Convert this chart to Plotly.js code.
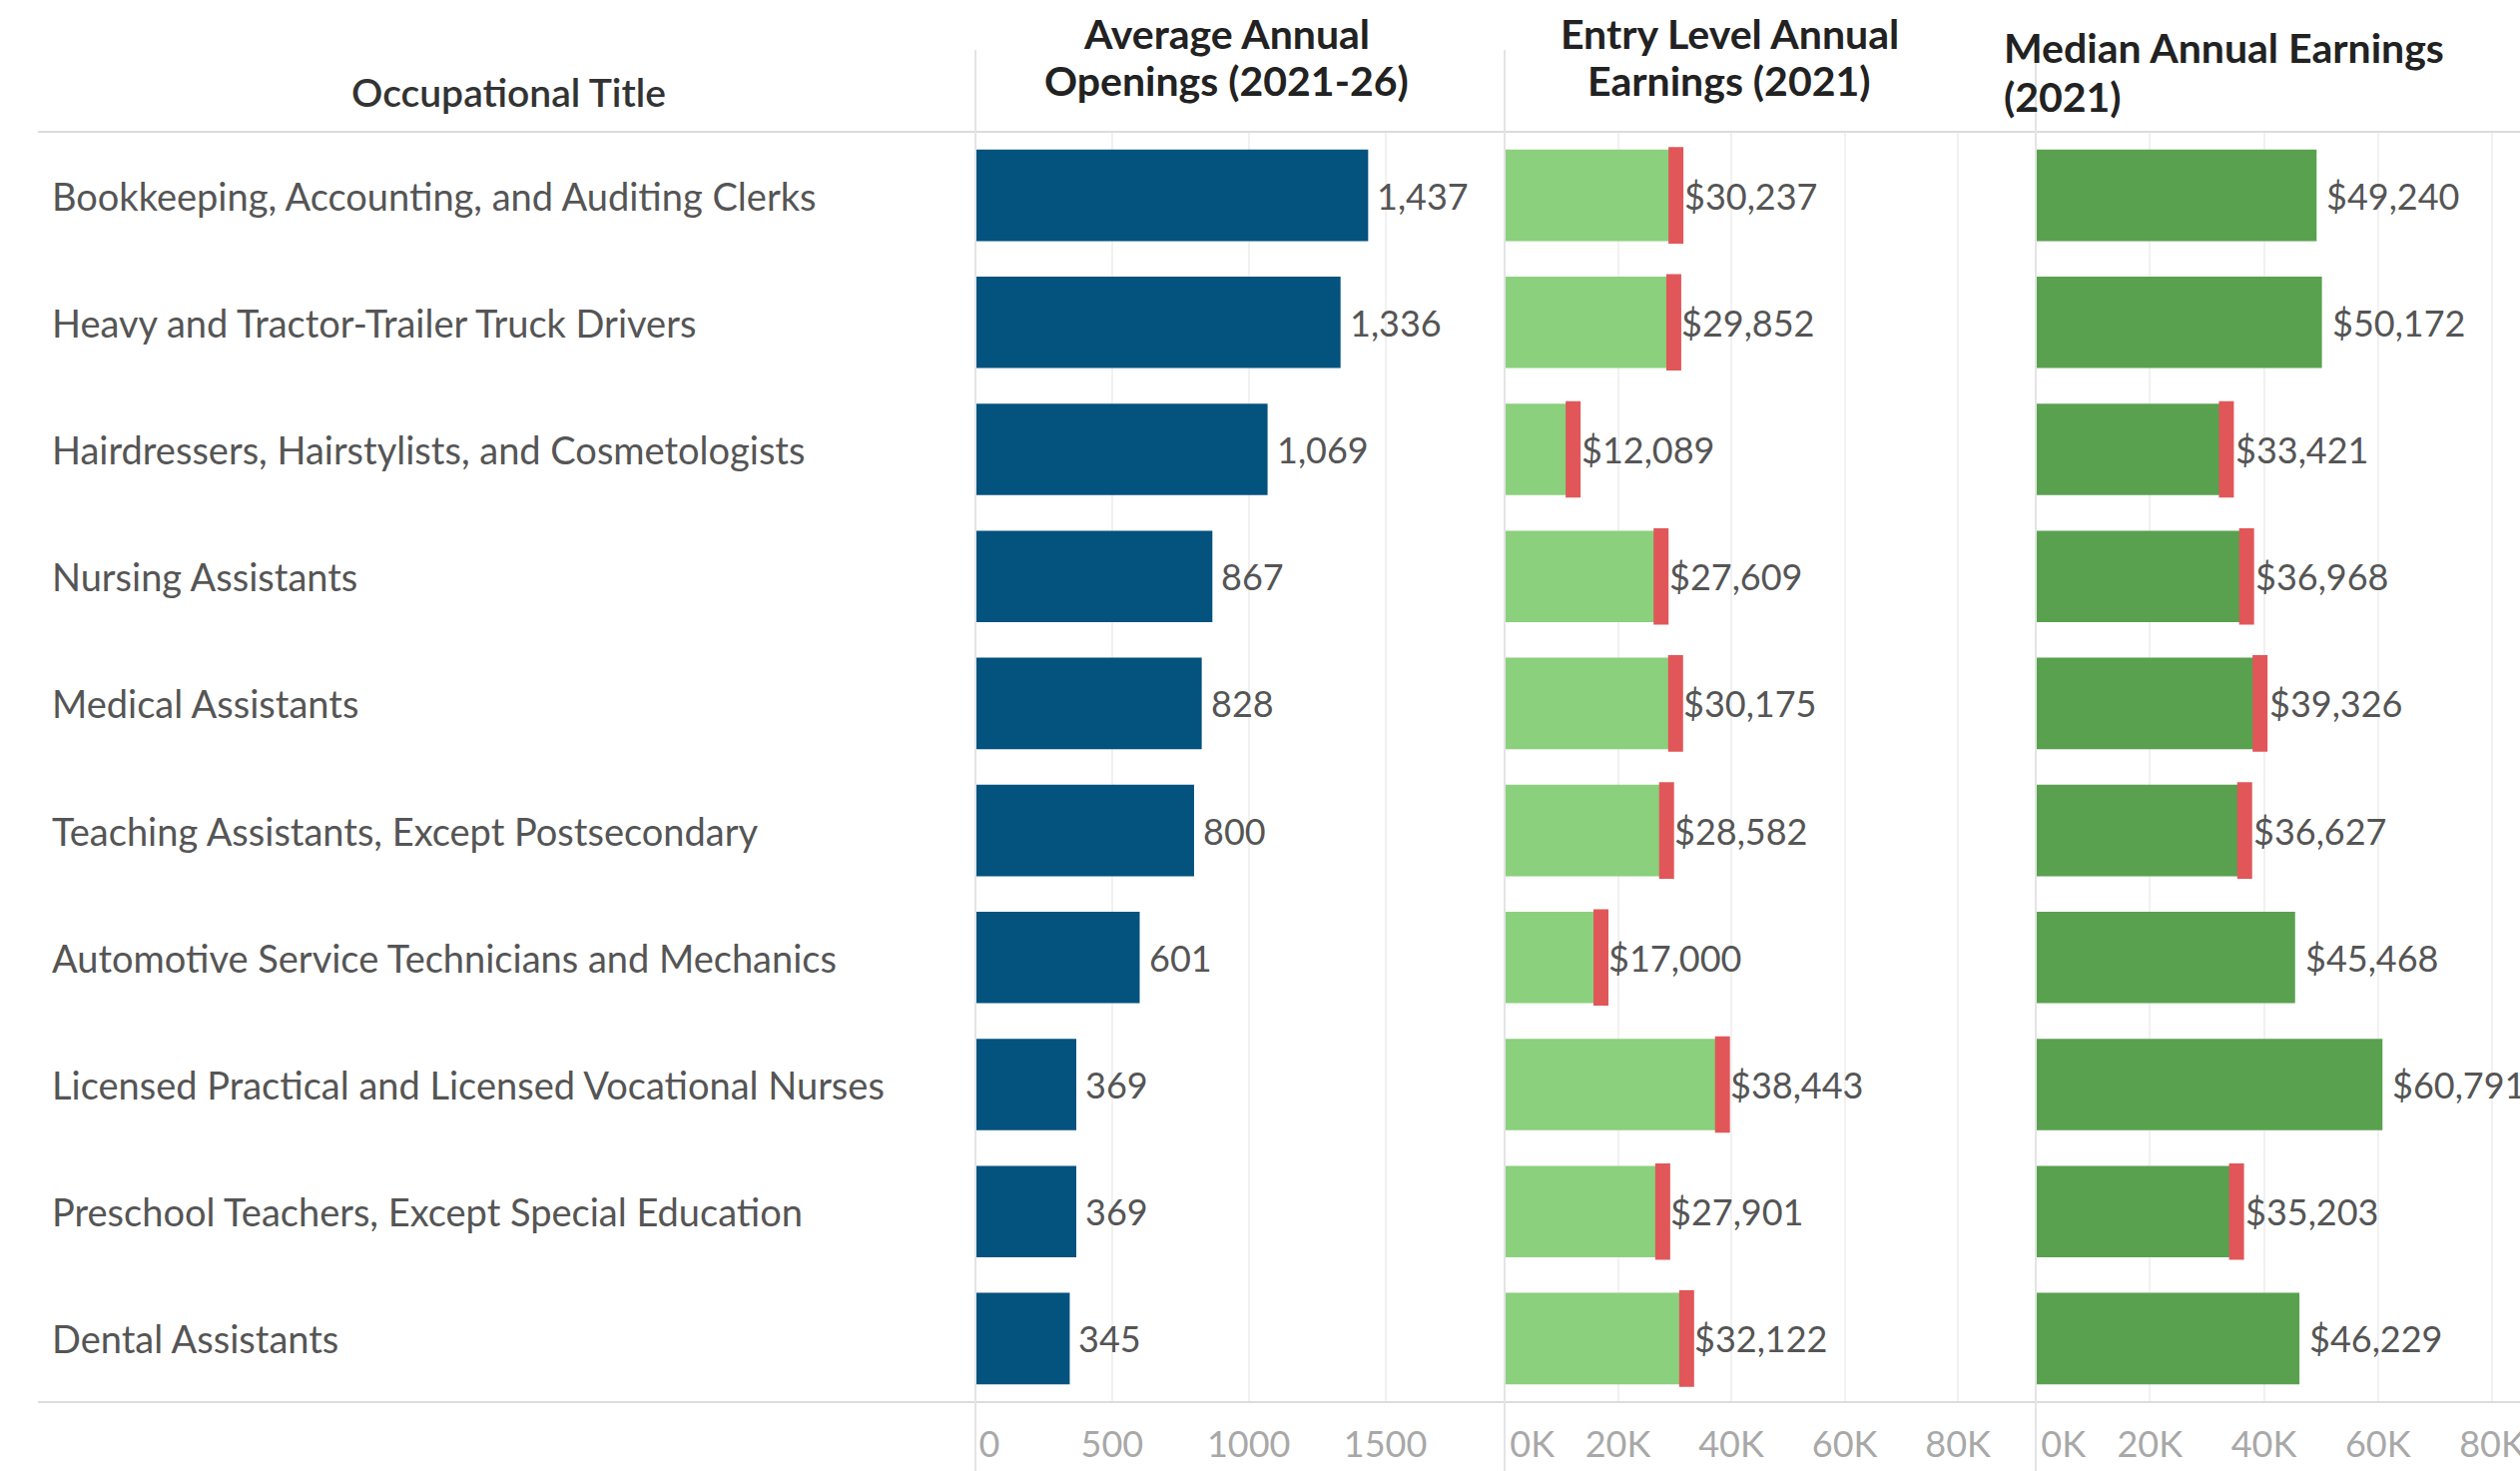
<!DOCTYPE html>
<html>
<head>
<meta charset="utf-8">
<script src="https://cdn.plot.ly/plotly-3.0.1.min.js"></script>
<style>
  html, body { margin: 0; padding: 0; background: #ffffff; }
  #chart { width: 2524px; height: 1473px; }
</style>
</head>
<body>
<div id="chart"></div>
<script>
// ---------- DATA ----------
const occupations = [
  "Bookkeeping, Accounting, and Auditing Clerks",
  "Heavy and Tractor-Trailer Truck Drivers",
  "Hairdressers, Hairstylists, and Cosmetologists",
  "Nursing Assistants",
  "Medical Assistants",
  "Teaching Assistants, Except Postsecondary",
  "Automotive Service Technicians and Mechanics",
  "Licensed Practical and Licensed Vocational Nurses",
  "Preschool Teachers, Except Special Education",
  "Dental Assistants"
];
const annualOpenings = [1437, 1336, 1069, 867, 828, 800, 601, 369, 369, 345];
const entryEarnings = [30237, 29852, 12089, 27609, 30175, 28582, 17000, 38443, 27901, 32122];
const medianEarnings = [49240, 50172, 33421, 36968, 39326, 36627, 45468, 60791, 35203, 46229];
// rows whose median bar carries the red end marker in the reference
const medianMarked = [false, false, true, true, true, true, false, false, true, false];

const openingTicks = [0, 500, 1000, 1500];
const openingTickText = ["0", "500", "1000", "1500"];
const earningTicks = [0, 20000, 40000, 60000, 80000];
const earningTickText = ["0K", "20K", "40K", "60K", "80K"];

const headerOccupation = "Occupational Title";
const headerOpenings = ["Average Annual", "Openings (2021-26)"];
const headerEntry = ["Entry Level Annual", "Earnings (2021)"];
const headerMedian = ["Median Annual Earnings", "(2021)"];

// ---------- STYLE ----------
const W = 2524, H = 1473;
const FONT = "Lato, 'Open Sans', sans-serif";
const cBlue = "#04527e", cLight = "#8bd07c", cDark = "#59a14f", cRed = "#e15759";
const px = v => v / W;          // horizontal pixel -> paper
const py = v => 1 - v / H;      // vertical pixel -> paper

const dom1 = [px(977), px(1505)];
const dom2 = [px(1507), px(2036)];
const dom3 = [px(2039), 1];
const yDom = [py(1404), py(132)];

const fmtNum = v => v.toLocaleString("en-US");
const fmtUsd = v => "$" + v.toLocaleString("en-US");
// Tableau nudges the first tick label inside the pane; emulate with leading spaces
const nudgeFirst = (arr, n) => arr.map((t, i) => i === 0 ? "\u00a0".repeat(n) + t : t);

const barW = 0.72;
const redMarker = { symbol: "line-ns", size: 69, color: cRed, line: { width: 15, color: cRed } };
const traces = [
  { type: "bar", orientation: "h", x: annualOpenings, y: occupations, xaxis: "x", yaxis: "y",
    marker: { color: cBlue }, width: barW, hoverinfo: "x+y" },
  { type: "bar", orientation: "h", x: entryEarnings, y: occupations, xaxis: "x2", yaxis: "y",
    marker: { color: cLight }, width: barW, hoverinfo: "x+y" },
  { type: "bar", orientation: "h", x: medianEarnings, y: occupations, xaxis: "x3", yaxis: "y",
    marker: { color: cDark }, width: barW, hoverinfo: "x+y" },
  { type: "scatter", mode: "markers", x: entryEarnings, y: occupations, xaxis: "x2", yaxis: "y",
    marker: redMarker, hoverinfo: "skip" },
  { type: "scatter", mode: "markers",
    x: medianEarnings.filter((v, i) => medianMarked[i]),
    y: occupations.filter((v, i) => medianMarked[i]),
    xaxis: "x3", yaxis: "y", marker: redMarker, hoverinfo: "skip" }
];

const labelFont = { family: FONT, size: 38, color: "#555555" };
const valueFont = { family: FONT, size: 36, color: "#555555" };
const headFont = { family: FONT, size: 41, color: "#222222", weight: 700 };
const titleFont = { family: FONT, size: 39, color: "#333333", weight: 600 };

const annotations = [];
occupations.forEach((o, i) => {
  annotations.push({ xref: "paper", yref: "y", x: px(50), y: o, text: o, showarrow: false,
    xanchor: "left", yanchor: "middle", font: labelFont });
  annotations.push({ xref: "x", yref: "y", x: annualOpenings[i], y: o, text: fmtNum(annualOpenings[i]),
    showarrow: false, xanchor: "left", yanchor: "middle", xshift: 7, font: valueFont });
  annotations.push({ xref: "x2", yref: "y", x: entryEarnings[i], y: o, text: fmtUsd(entryEarnings[i]),
    showarrow: false, xanchor: "left", yanchor: "middle", xshift: 6, font: valueFont });
  annotations.push({ xref: "x3", yref: "y", x: medianEarnings[i], y: o, text: fmtUsd(medianEarnings[i]),
    showarrow: false, xanchor: "left", yanchor: "middle", xshift: medianMarked[i] ? 7 : 8, font: valueFont });
});
annotations.push({ xref: "paper", yref: "paper", x: px(509), y: py(92), text: headerOccupation,
  showarrow: false, xanchor: "center", yanchor: "middle", font: titleFont });
const addHeader = (lines, x, ys, anchor) => lines.forEach((t, k) => annotations.push({
  xref: "paper", yref: "paper", x: px(x), y: py(ys[k]), text: t, showarrow: false,
  xanchor: anchor, yanchor: "middle", font: headFont }));
addHeader(headerOpenings, 1228, [34, 81], "center");
addHeader(headerEntry, 1732, [34, 81], "center");
addHeader(headerMedian, 2005, [48, 96], "left");

const lineCol = "#dcdcdc";
const shapes = [
  { type: "line", xref: "paper", yref: "paper", x0: px(38), x1: 1, y0: py(132), y1: py(132),
    line: { color: lineCol, width: 2 } },
  { type: "line", xref: "paper", yref: "paper", x0: px(38), x1: 1, y0: py(1404), y1: py(1404),
    line: { color: lineCol, width: 2 } },
  { type: "line", xref: "paper", yref: "paper", x0: dom1[0], x1: dom1[0], y0: 0, y1: py(50),
    line: { color: "#e4e4e4", width: 2 } },
  { type: "line", xref: "paper", yref: "paper", x0: dom2[0], x1: dom2[0], y0: 0, y1: py(50),
    line: { color: "#e4e4e4", width: 2 } },
  { type: "line", xref: "paper", yref: "paper", x0: dom3[0], x1: dom3[0], y0: 0, y1: py(50),
    line: { color: "#e4e4e4", width: 2 } }
];

const tickFont = { family: FONT, size: 36, color: "#a8a8a8" };
const xBase = {
  anchor: "y", showgrid: true, gridcolor: "#f1f1f1", gridwidth: 2, zeroline: false,
  showline: false, ticks: "outside", ticklen: 11, tickcolor: "rgba(0,0,0,0)",
  tickfont: tickFont, fixedrange: true, ticklabeloverflow: "allow"
};

const layout = {
  width: W, height: H,
  margin: { l: 0, r: 0, t: 0, b: 0 },
  paper_bgcolor: "#ffffff", plot_bgcolor: "rgba(0,0,0,0)",
  showlegend: false, barmode: "overlay",
  xaxis: Object.assign({}, xBase, { domain: dom1, range: [0, 1929], tickvals: openingTicks,
    ticktext: nudgeFirst(openingTickText, 3) }),
  xaxis2: Object.assign({}, xBase, { domain: dom2, range: [0, 93200], tickvals: earningTicks,
    ticktext: nudgeFirst(earningTickText, 6) }),
  xaxis3: Object.assign({}, xBase, { domain: dom3, range: [0, 84900], tickvals: earningTicks,
    ticktext: nudgeFirst(earningTickText, 6) }),
  yaxis: { domain: yDom, type: "category", categoryorder: "array", categoryarray: occupations,
    range: [9.5, -0.5], showticklabels: false, showgrid: false, zeroline: false, showline: false,
    ticks: "", fixedrange: true },
  annotations: annotations,
  shapes: shapes,
  font: { family: FONT }
};

Plotly.newPlot("chart", traces, layout, { displayModeBar: false, staticPlot: true });
</script>
</body>
</html>
